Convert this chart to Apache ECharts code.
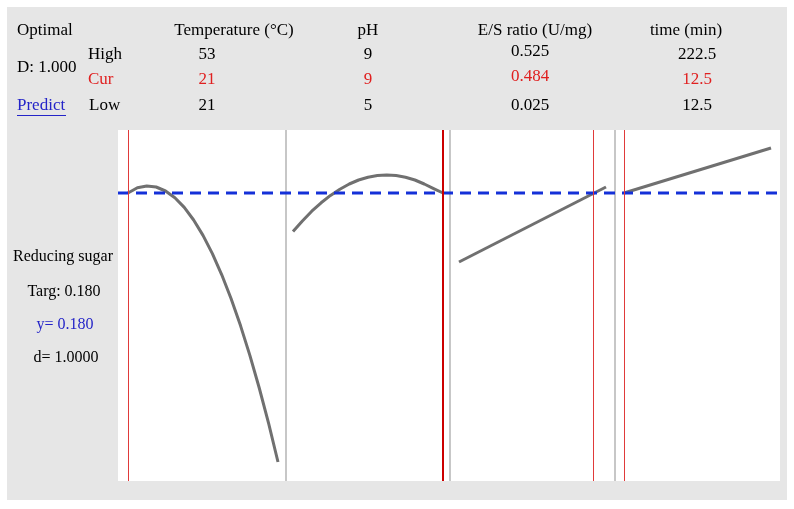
<!DOCTYPE html>
<html>
<head>
<meta charset="utf-8">
<script src="https://cdn.jsdelivr.net/npm/echarts@6/dist/echarts.min.js"></script>
<style>
  html, body { margin: 0; padding: 0; background: #fff; }
  #chart { width: 794px; height: 509px; }
</style>
</head>
<body>
<div id="chart"></div>
<script>
// factor settings
const factorNames = ['Temperature (°C)', 'pH', 'E/S ratio (U/mg)', 'time (min)'];
const highVals = [53, 9, 0.525, 222.5];
const curVals = [21, 9, 0.484, 12.5];
const lowVals = [21, 5, 0.025, 12.5];

// predicted response along each factor
const tempX = [21, 23, 25, 27, 29, 31, 33, 35, 37, 39, 41, 43, 45, 47, 49, 51, 53];
const tempY = [0.180, 0.1826, 0.1835, 0.1830, 0.1810, 0.1776, 0.1728, 0.1665, 0.1588,
  0.1497, 0.1391, 0.1271, 0.1137, 0.0988, 0.0825, 0.0648, 0.0455];
const phX = [5, 5.25, 5.5, 5.75, 6, 6.25, 6.5, 6.75, 7, 7.25, 7.5, 7.75, 8, 8.25, 8.5, 8.75, 9];
const phY = [0.1607, 0.1660, 0.1709, 0.1751, 0.1788, 0.1819, 0.1845, 0.1865, 0.1879,
  0.1887, 0.1890, 0.1887, 0.1879, 0.1865, 0.1845, 0.1822, 0.180];
const esX = [0.025, 0.525];
const esY = [0.1455, 0.183];
const timeX = [12.5, 222.5];
const timeY = [0.180, 0.2025];

const target = 0.180;
const yMin = 0.036, yMax = 0.2115;

const curveX = [tempX, phX, esX, timeX];
const curveY = [tempY, phY, esY, timeY];

// layout
const plotTop = 130, plotH = 351;
const panelLeft = [128, 293, 459, 624];
const panelW = [150, 150, 147, 147];
const dividers = [286, 450, 615];
const nameCx = [234, 368, 535, 686];
const valCx = [207, 368, 530, 697];
const curWidth = [1, 2, 1, 1];
const font = '"Liberation Serif", "DejaVu Serif", serif';

const chart = echarts.init(document.getElementById('chart'));

const grid = [], xAxis = [], yAxis = [], series = [];
for (let i = 0; i < 4; i++) {
  grid.push({ left: panelLeft[i], top: plotTop, width: panelW[i], height: plotH });
  xAxis.push({ type: 'value', gridIndex: i, min: lowVals[i], max: highVals[i], show: false });
  yAxis.push({ type: 'value', gridIndex: i, min: yMin, max: yMax, show: false });
  series.push({
    type: 'line',
    xAxisIndex: i,
    yAxisIndex: i,
    data: curveX[i].map((x, k) => [x, curveY[i][k]]),
    symbol: 'none',
    silent: true,
    z: 2,
    lineStyle: { color: '#707070', width: 3, join: 'round' },
    markLine: {
      silent: true,
      symbol: ['none', 'none'],
      label: { show: false },
      lineStyle: { color: i === 1 ? '#cc0000' : '#e03a3a', width: curWidth[i], type: 'solid' },
      data: [{ xAxis: curVals[i] }]
    }
  });
}
// whole plot strip, used for white background and the target line
grid.push({ left: 118, top: plotTop, width: 662, height: plotH, show: true, backgroundColor: '#fff', borderWidth: 0 });
xAxis.push({ type: 'value', gridIndex: 4, min: 0, max: 1, show: false });
yAxis.push({ type: 'value', gridIndex: 4, min: yMin, max: yMax, show: false });
series.push({
  type: 'line',
  xAxisIndex: 4,
  yAxisIndex: 4,
  data: [[0, target], [1, target]],
  symbol: 'none',
  silent: true,
  z: 3,
  lineStyle: { color: '#1430d8', width: 3, type: [11, 7] }
});

function txt(x, y, text, color, align, size) {
  return {
    type: 'text', x: x, y: y, z: 100,
    style: { text: text, fill: color || '#000', font: (size || 17) + 'px ' + font, textAlign: align || 'center', textVerticalAlign: 'middle' }
  };
}

const graphic = [
  { type: 'rect', z: -10, shape: { x: 7, y: 7, width: 780, height: 493 }, style: { fill: '#e6e6e6' } }
];
dividers.forEach(x => {
  graphic.push({ type: 'line', z: 1, shape: { x1: x, y1: plotTop, x2: x, y2: plotTop + plotH }, style: { stroke: '#b4b4b4', lineWidth: 1.5 } });
});
graphic.push(
  txt(17, 31, 'Optimal', '#000', 'left'),
  txt(17, 68, 'D: 1.000', '#000', 'left'),
  txt(17, 106, 'Predict', '#2424c8', 'left'),
  { type: 'line', z: 100, shape: { x1: 17, y1: 115.5, x2: 66, y2: 115.5 }, style: { stroke: '#2424c8', lineWidth: 1.2 } },
  txt(88, 55, 'High', '#000', 'left'),
  txt(88, 80, 'Cur', '#e02020', 'left'),
  txt(89, 106, 'Low', '#000', 'left'),
  txt(63, 257, 'Reducing sugar', '#000', 'center', 16),
  txt(64, 292, 'Targ: ' + target.toFixed(3), '#000', 'center', 16),
  txt(65, 325, 'y= ' + target.toFixed(3), '#2424c8', 'center', 16),
  txt(66, 358, 'd= 1.0000', '#000', 'center', 16)
);
for (let i = 0; i < 4; i++) {
  const dy = i === 2 ? -3 : 0;
  graphic.push(
    txt(nameCx[i], 31, factorNames[i]),
    txt(valCx[i], 55 + dy, String(highVals[i])),
    txt(valCx[i], 80 + dy, String(curVals[i]), '#e02020'),
    txt(valCx[i], 106, String(lowVals[i]))
  );
}

chart.setOption({
  animation: false,
  backgroundColor: '#fff',
  grid: grid,
  xAxis: xAxis,
  yAxis: yAxis,
  series: series,
  graphic: graphic
});
</script>
</body>
</html>
